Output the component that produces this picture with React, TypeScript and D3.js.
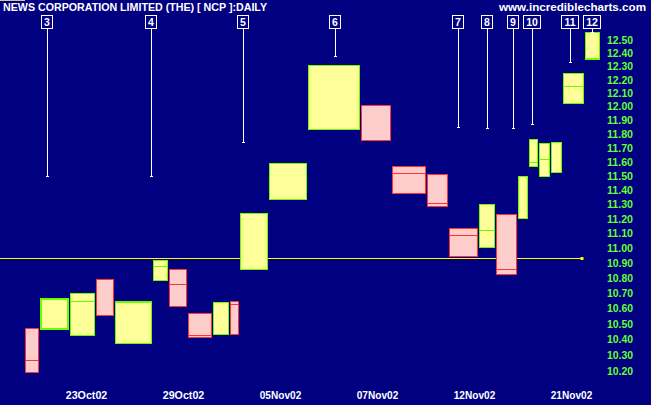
import React from "react";
import * as d3 from "d3";

const dates = ["21Oct02","22Oct02","23Oct02","24Oct02","25Oct02","28Oct02","29Oct02","30Oct02","31Oct02","01Nov02","04Nov02","05Nov02","06Nov02","07Nov02","08Nov02","11Nov02","12Nov02","13Nov02","14Nov02","15Nov02","18Nov02","19Nov02","20Nov02","21Nov02","22Nov02"];
const highs = [10.47,10.67,10.70,10.79,10.65,10.92,10.86,10.57,10.64,10.65,11.24,11.59,12.31,12.01,11.57,11.51,11.14,11.30,11.23,11.50,11.76,11.73,11.74,12.25,12.56];
const lows = [10.19,10.46,10.42,10.55,10.37,10.78,10.61,10.41,10.43,10.43,10.855,11.33,11.83,11.75,11.37,11.28,10.94,11.00,10.82,11.20,11.56,11.49,11.52,12.02,12.35];
const closes = [10.27,10.47,10.65,10.55,10.64,10.88,10.76,10.43,10.64,10.63,11.24,11.59,11.83,11.75,11.52,11.31,11.09,11.12,10.86,11.50,11.60,11.62,11.74,12.15,12.36];
const volumes = [144,306,260,190,380,160,190,250,170,100,290,390,530,310,350,220,300,170,220,110,100,120,120,220,160];
const emphasisBar = 1;

const markerLabels = ["3","4","5","6","7","8","9","10","11","12"];
const markerPos = [217,1267,2180,3097,4330,4627,4877,5070,5450,5667];
const markerEnd = [11.50,11.50,11.74,12.38,11.85,11.84,11.84,11.87,12.33,12.56];

const priceTicks = d3.range(102, 126).map((v) => v / 10);
const dateTickPos = [612,1582,2552,3522,4492,5462];

const supportLevel = 10.93;
const supportEndBar = 23;

const W = 651, H = 406;
const BG = "#000080";
const GREEN = "#66ff00";
const LABEL_GREEN = "#66ff33";
const RED = "#ff3333";
const YELLOW_FILL = "#ffff99";
const PINK_FILL = "#ffcccc";
const FONT = "Liberation Sans, Arial, sans-serif";

export default function App() {
  const total = d3.sum(volumes);
  const cum = [0, ...d3.cumsum(volumes)];
  const x = d3.scaleLinear().domain([0, total]).range([25.3, 601.3]);
  const y = d3.scaleLog().domain([10.2, 12.5]).range([371, 40]);

  const bars = highs.map((h, i) => {
    const left = Math.round(x(cum[i])) + 0.5;
    const right = Math.round(x(cum[i + 1])) - 1.5;
    const top = Math.round(y(h)) + 0.5;
    const bottom = Math.round(y(lows[i])) - 0.5;
    const cy = Math.max(top, Math.min(bottom, Math.round(y(closes[i])) + 0.5));
    const up = i === 0 ? false : closes[i] >= closes[i - 1];
    return { i, left, right, top, bottom, cy, up };
  });

  const supY = Math.floor(y(supportLevel)) + 0.5;
  const supEndX = Math.round(x(cum[supportEndBar + 1])) - 1.5;

  const barAt = (pos: number) => {
    for (let i = 0; i < volumes.length; i++) if (pos < cum[i + 1]) return i;
    return volumes.length - 1;
  };

  return (
    <div style={{ position: "absolute", left: 0, top: 0 }}>
      <svg width={W} height={H} style={{ display: "block" }}>
        <rect x={0} y={0} width={W} height={H} fill="#ffffff" />
        <rect x={0} y={0} width={W} height={405} fill={BG} />
        <rect x={0} y={0} width={25} height={1} fill="#d4c58f" />

        <text x={3} y={11} fill="#ffffff" fontFamily={FONT} fontWeight="bold" fontSize={11}
          textLength={264} lengthAdjust="spacingAndGlyphs">
          NEWS CORPORATION LIMITED (THE) [ NCP ]:DAILY
        </text>
        <text x={499} y={11} fill="#ffffff" fontFamily={FONT} fontWeight="bold" fontSize={11.5}
          textLength={147} lengthAdjust="spacingAndGlyphs">
          www.incrediblecharts.com
        </text>

        {/* support line */}
        <line x1={0} x2={supEndX - 1} y1={supY} y2={supY} stroke="#ffff00" strokeWidth={1} />
        <rect x={supEndX - 3} y={supY - 1.5} width={3} height={3} fill="#ffff00" />

        {/* boxes */}
        {bars.map((b) => (
          <g key={b.i}>
            <rect x={b.left} y={b.top} width={b.right - b.left} height={b.bottom - b.top}
              fill={b.up ? YELLOW_FILL : PINK_FILL} stroke={b.up ? GREEN : RED}
              strokeWidth={1} />
            {b.i === emphasisBar && (
              <rect x={b.left + 1} y={b.top + 1} width={b.right - b.left - 2} height={b.bottom - b.top - 2}
                fill="none" stroke={b.up ? GREEN : RED} strokeWidth={1} />
            )}
            <line x1={b.left} x2={b.right} y1={b.cy} y2={b.cy} stroke={b.up ? GREEN : RED} strokeWidth={1} />
          </g>
        ))}

        {/* markers */}
        {markerLabels.map((lab, k) => {
          const mx = Math.floor(x(markerPos[k])) + 0.5;
          const ye = Math.round(y(markerEnd[k]));
          const bw = lab.length > 1 ? 17 : 11;
          const bx = mx - (lab.length > 1 ? 9 : 6);
          return (
            <g key={lab}>
              <line x1={mx} x2={mx} y1={29} y2={ye + 1} stroke="#ffffff" strokeWidth={1} />
              <line x1={mx - 1.5} x2={mx + 1.5} y1={ye + 0.5} y2={ye + 0.5} stroke="#ffffff" strokeWidth={1} />
              <rect x={bx} y={15.5} width={bw} height={13} fill={BG} stroke="#ffffff" strokeWidth={1} />
              <text x={bx + bw / 2} y={26} textAnchor="middle" fill="#ffffff" fontFamily={FONT}
                fontWeight="bold" fontSize={10.5}>{lab}</text>
            </g>
          );
        })}

        {/* price axis */}
        {priceTicks.map((t) => (
          <text key={t} x={607} y={y(t) + 4} fill={LABEL_GREEN} fontFamily={FONT} fontWeight="bold"
            fontSize={11} textLength={26} lengthAdjust="spacingAndGlyphs">
            {t.toFixed(2)}
          </text>
        ))}

        {/* date axis */}
        {dateTickPos.map((p) => (
          <text key={p} x={x(p)} y={399} textAnchor="middle" fill="#ffffff" fontFamily={FONT}
            fontWeight="bold" fontSize={11} textLength={41.5} lengthAdjust="spacingAndGlyphs">
            {dates[barAt(p)]}
          </text>
        ))}
      </svg>
    </div>
  );
}
